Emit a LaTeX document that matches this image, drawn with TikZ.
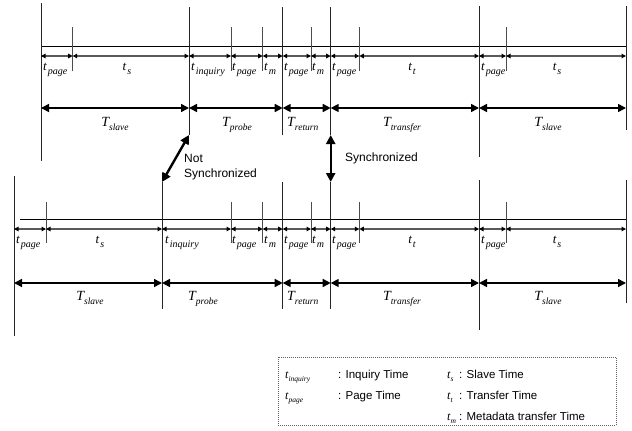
\documentclass[tikz,border=0pt]{standalone}
\usepackage{fontspec}
\setmainfont{Liberation Serif}
\setsansfont{Liberation Sans}
\usetikzlibrary{arrows.meta}

% symbols: small t with subscript, capital T with subscript, legend t
\newcommand\tsym[1]{{\fontsize{13}{13}\selectfont\itshape t}\kern1pt\raisebox{-4pt}{\fontsize{10}{10}\selectfont\itshape #1}}
\newcommand\Tsym[1]{{\fontsize{14}{14}\selectfont\itshape T}\raisebox{-4pt}{\fontsize{9.5}{9.5}\selectfont\itshape #1}}
\newcommand\lsym[1]{{\fontsize{12}{12}\selectfont\itshape t}\raisebox{-3pt}{\fontsize{7.5}{7.5}\selectfont\itshape #1}}

\begin{document}
\begin{tikzpicture}[x=1pt,y=-1pt,
  major/.style={draw=black!85,line width=0.9pt},
  tickline/.style={draw=black!70,line width=0.9pt},
  baseline/.style={draw=black,line width=0.8pt},
  short/.style={draw=black!65,line width=1.2pt,
    arrows={Triangle[length=4.5pt,width=4.5pt,color=black]-Triangle[length=4.5pt,width=4.5pt,color=black]}},
  long/.style={draw=black,line width=1.6pt,
    arrows={Triangle[length=8pt,width=8pt]-Triangle[length=8pt,width=8pt]}},
  sync/.style={draw=black,line width=2.4pt,
    arrows={Triangle[length=9pt,width=9pt]-Triangle[length=9pt,width=9pt]}},
  tlab/.style={inner sep=0pt,anchor=base west},
  tlabc/.style={inner sep=0pt,anchor=base},
  sans/.style={inner sep=0pt,anchor=base west,font=\sffamily\fontsize{12}{15}\selectfont},
  legtxt/.style={inner sep=0pt,anchor=base west,font=\sffamily\fontsize{11.5}{14}\selectfont},
  legsym/.style={inner sep=0pt,anchor=base west},
]
\useasboundingbox (0,0) rectangle (632,431);

%% ---------------- upper timeline ----------------
\coordinate (ubl) at (41,46);
\coordinate (ubr) at (626,46);
\draw[baseline] (ubl) -- (ubr);

\foreach \x/\a/\b [count=\i from 0] in {41/3/161,189/7/135,282.7/7/135,330.7/7/135,479/6/157,626/6/130}{
  \coordinate (uvt\i) at (\x,\a);
  \coordinate (uvb\i) at (\x,\b);
  \draw[major] (uvt\i) -- (uvb\i);
}
\foreach \x [count=\i from 0] in {72.7,231,262.7,311,359.3,506}{
  \coordinate (uct\i) at (\x,27);
  \coordinate (ucb\i) at (\x,71);
  \draw[tickline] (uct\i) -- (ucb\i);
}
\foreach \x [count=\i from 0] in {41,72.7,189,231,262.7,282.7,311,330.7,359.3,479,506,626}
  \coordinate (ua\i) at (\x,56);
\foreach \i [evaluate=\i as \j using int(\i+1)] in {0,...,10}
  \draw[short] (ua\i) -- (ua\j);
\foreach \x [count=\i from 0] in {41,189,282.7,330.7,479,626}
  \coordinate (uA\i) at (\x,108);
\foreach \i [evaluate=\i as \j using int(\i+1)] in {0,...,4}
  \draw[long] (uA\i) -- (uA\j);

\node[tlab]  (ul0)  at (43,70)    {\tsym{page}};
\node[tlabc] (ul1)  at (127,70)   {\tsym{s}};
\node[tlab]  (ul2)  at (191,70)   {\tsym{inquiry}};
\node[tlab]  (ul3)  at (232,70)   {\tsym{page}};
\node[tlab]  (ul4)  at (264,70)   {\tsym{m}};
\node[tlab]  (ul5)  at (284,70)   {\tsym{page}};
\node[tlab]  (ul6)  at (312,70)   {\tsym{m}};
\node[tlab]  (ul7)  at (332,70)   {\tsym{page}};
\node[tlabc] (ul8)  at (412,70)   {\tsym{t}};
\node[tlab]  (ul9)  at (481,70)   {\tsym{page}};
\node[tlabc] (ul10) at (557,70)   {\tsym{s}};

\node[tlabc] (uL0) at (115,126) {\Tsym{slave}};
\node[tlabc] (uL1) at (237,126) {\Tsym{probe}};
\node[tlab]  (uL2) at (287,126) {\Tsym{return}};
\node[tlabc] (uL3) at (402,126) {\Tsym{transfer}};
\node[tlabc] (uL4) at (548,126) {\Tsym{slave}};

%% ---------------- lower timeline ----------------
\coordinate (lbl) at (20,219);
\coordinate (lbr) at (626,219);
\draw[baseline] (lbl) -- (lbr);

\foreach \x/\a/\b [count=\i from 0] in {14/176/336,162/182/309,282.7/182/309,330.7/182/309,479/180/330,626/180/303}{
  \coordinate (lvt\i) at (\x,\a);
  \coordinate (lvb\i) at (\x,\b);
  \draw[major] (lvt\i) -- (lvb\i);
}
\foreach \x [count=\i from 0] in {46,231,262.7,311,359.3,506}{
  \coordinate (lct\i) at (\x,202);
  \coordinate (lcb\i) at (\x,243);
  \draw[tickline] (lct\i) -- (lcb\i);
}
\foreach \x [count=\i from 0] in {14,46,162,231,262.7,282.7,311,330.7,359.3,479,506,626}
  \coordinate (la\i) at (\x,229);
\foreach \i [evaluate=\i as \j using int(\i+1)] in {0,...,10}
  \draw[short] (la\i) -- (la\j);
\foreach \x [count=\i from 0] in {14,162,282.7,330.7,479,626}
  \coordinate (lA\i) at (\x,283);
\foreach \i [evaluate=\i as \j using int(\i+1)] in {0,...,4}
  \draw[long] (lA\i) -- (lA\j);

\node[tlab]  (ll0)  at (16,243)   {\tsym{page}};
\node[tlabc] (ll1)  at (100,243)  {\tsym{s}};
\node[tlab]  (ll2)  at (165,243)  {\tsym{inquiry}};
\node[tlab]  (ll3)  at (232,243)  {\tsym{page}};
\node[tlab]  (ll4)  at (264,243)  {\tsym{m}};
\node[tlab]  (ll5)  at (284,243)  {\tsym{page}};
\node[tlab]  (ll6)  at (312,243)  {\tsym{m}};
\node[tlab]  (ll7)  at (332,243)  {\tsym{page}};
\node[tlabc] (ll8)  at (412,243)  {\tsym{t}};
\node[tlab]  (ll9)  at (481,243)  {\tsym{page}};
\node[tlabc] (ll10) at (557,243)  {\tsym{s}};

\node[tlabc] (lL0) at (90,300)  {\Tsym{slave}};
\node[tlabc] (lL1) at (203,300) {\Tsym{probe}};
\node[tlab]  (lL2) at (287,300) {\Tsym{return}};
\node[tlabc] (lL3) at (402,300) {\Tsym{transfer}};
\node[tlabc] (lL4) at (548,300) {\Tsym{slave}};

%% ---------------- synchronisation arrows ----------------
\draw[sync] (uvb1) -- (lvt1);
\node[sans] (ns1) at (184,162) {Not};
\node[sans] (ns2) at (184,177) {Synchronized};
\draw[sync] (uvb3) -- (lvt3);
\node[sans] (sy) at (345,161.5) {Synchronized};

%% ---------------- legend ----------------
\node[draw=black!60,dash pattern=on 1pt off 1pt,line width=0.6pt,inner sep=0pt,
      minimum width=338pt,minimum height=68pt,anchor=north west] (leg) at (278,357) {};
\node[legsym] (k1) at (285,378) {\lsym{inquiry}};
\node[legtxt] (d1) at (338,378) {: Inquiry Time};
\node[legsym] (k2) at (285,399) {\lsym{page}};
\node[legtxt] (d2) at (338,399) {: Page Time};
\node[legsym] (k3) at (447,378) {\lsym{s}};
\node[legtxt] (d3) at (459,378) {: Slave Time};
\node[legsym] (k4) at (447,399) {\lsym{t}};
\node[legtxt] (d4) at (459,399) {: Transfer Time};
\node[legsym] (k5) at (447,420) {\lsym{m}};
\node[legtxt] (d5) at (459,420) {: Metadata transfer Time};
\end{tikzpicture}
\end{document}
